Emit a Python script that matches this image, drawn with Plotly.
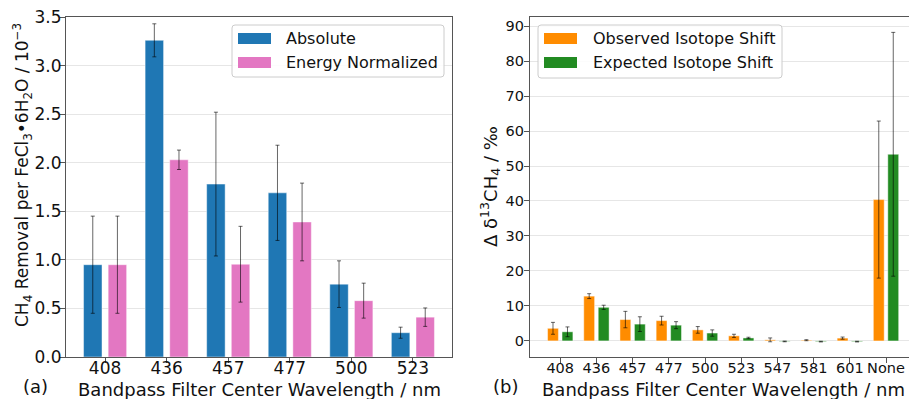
import plotly.graph_objects as go

# ---- data -------------------------------------------------------------
wavelengths_a = ["408", "436", "457", "477", "500", "523"]
absolute = [0.95, 3.26, 1.78, 1.69, 0.75, 0.25]
absolute_err = [0.50, 0.17, 0.74, 0.49, 0.24, 0.057]
normalized = [0.95, 2.03, 0.955, 1.39, 0.58, 0.41]
normalized_err = [0.50, 0.10, 0.39, 0.40, 0.18, 0.095]

wavelengths_b = ["408", "436", "457", "477", "500", "523", "547", "581", "601", "None"]
observed = [3.6, 12.8, 6.1, 5.8, 3.15, 1.45, 0.3, 0.2, 0.8, 40.4]
observed_err = [1.7, 0.7, 2.35, 1.25, 0.95, 0.45, 0.55, 0.15, 0.3, 22.45]
expected = [2.6, 9.6, 4.8, 4.5, 2.25, 0.85, -0.15, -0.2, -0.2, 53.35]
expected_err = [1.4, 0.6, 2.1, 1.0, 0.9, 0.2, 0.1, 0.1, 0.1, 34.85]

# ---- styling ------------------------------------------------------------
W, H = 909, 399
TOP, BOTTOM = 17, 357
FONT = "DejaVu Sans"
TXT = "#111111"
AXIS = "#555555"
GRID = "#e6e6e6"
BLUE, PINK = "#1f77b4", "#e377c2"
ORANGE, GREEN = "#ff8c00", "#228b22"
BAR_W = 0.3


def px(x):
    return x / W


def py(y):
    return (BOTTOM - y) / (BOTTOM - TOP)


def err(values):
    return dict(type="data", array=values, visible=True,
                color="rgba(0,0,0,0.6)", thickness=1, width=2)


def bar(xs, ys, es, color, offset, xa, ya):
    return go.Bar(x=xs, y=ys, error_y=err(es), offset=offset, width=BAR_W,
                  marker=dict(color=color, line=dict(color="rgba(255,255,255,0.45)", width=1)),
                  xaxis=xa, yaxis=ya, showlegend=False)


fig = go.Figure()
fig.add_trace(bar(wavelengths_a, absolute, absolute_err, BLUE, -0.35, "x", "y"))
fig.add_trace(bar(wavelengths_a, normalized, normalized_err, PINK, 0.05, "x", "y"))
fig.add_trace(bar(wavelengths_b, observed, observed_err, ORANGE, -0.35, "x2", "y2"))
fig.add_trace(bar(wavelengths_b, expected, expected_err, GREEN, 0.05, "x2", "y2"))

axis_common = dict(showline=True, linecolor=AXIS, linewidth=1.2, ticks="outside",
                   ticklen=5, tickcolor=AXIS, zeroline=False)

fig.update_layout(
    width=W, height=H,
    margin=dict(l=0, r=0, t=TOP, b=H - BOTTOM, pad=0),
    paper_bgcolor="white", plot_bgcolor="white",
    barmode="overlay",
    font=dict(family=FONT, color=TXT),
    xaxis=dict(domain=[px(66), px(452)], type="category", range=[-0.635, 5.635],
               mirror=True, showgrid=False, tickfont=dict(size=17), anchor="y",
               ticklabelstandoff=-10, **axis_common),
    yaxis=dict(domain=[0, 1], range=[0, 3.5], dtick=0.5, tickformat=".1f",
               mirror=True, showgrid=True, gridcolor=GRID, tickfont=dict(size=17),
               anchor="x", ticklabelstandoff=-5, **axis_common),
    xaxis2=dict(domain=[px(530), 1.0], type="category", range=[-0.835, 9.635],
                mirror=True, showgrid=False, tickfont=dict(size=14.5), anchor="y2",
                ticklabelstandoff=-8, **axis_common),
    yaxis2=dict(domain=[0, 1], range=[-4.6, 92.6], dtick=10, mirror=False,
                showgrid=True, gridcolor=GRID, tickfont=dict(size=14.5), anchor="x2",
                ticklabelstandoff=-3, **axis_common),
)


def rounded_box(x0, y0, x1, y1, r=3):
    rx, ry = r / W, r / (BOTTOM - TOP)
    X0, X1, Y0, Y1 = px(x0), px(x1), py(y0), py(y1)
    return (f"M{X0 + rx},{Y0} L{X1 - rx},{Y0} Q{X1},{Y0} {X1},{Y0 - ry} "
            f"L{X1},{Y1 + ry} Q{X1},{Y1} {X1 - rx},{Y1} L{X0 + rx},{Y1} "
            f"Q{X0},{Y1} {X0},{Y1 + ry} L{X0},{Y0 - ry} Q{X0},{Y0} {X0 + rx},{Y0} Z")


def legend(box, patch_x, text_x, entries):
    fig.add_shape(type="path", xref="paper", yref="paper", layer="above",
                  path=rounded_box(*box), fillcolor="rgba(255,255,255,0.85)",
                  line=dict(color="#cccccc", width=1))
    for (label, color), (ya, yb) in zip(entries, [(33, 44), (57, 68)]):
        fig.add_shape(type="rect", xref="paper", yref="paper", layer="above",
                      x0=px(patch_x[0]), x1=px(patch_x[1]), y0=py(yb), y1=py(ya),
                      fillcolor=color, line=dict(width=0))
        fig.add_annotation(text=label, xref="paper", yref="paper", x=px(text_x),
                           y=py((ya + yb) / 2), xanchor="left", yanchor="middle",
                           showarrow=False, font=dict(size=16, color=TXT))


legend((232, 25, 444, 77), (238, 271), 284,
       [("Absolute", BLUE), ("Energy Normalized", PINK)])
legend((538, 25, 782, 78), (544, 577), 591,
       [("Observed Isotope Shift", ORANGE), ("Expected Isotope Shift", GREEN)])

# axis titles and panel labels
def label(text, x, y, size=18, angle=0):
    fig.add_annotation(text=text, xref="paper", yref="paper", x=px(x), y=py(y),
                       xanchor="center", yanchor="middle", textangle=angle,
                       showarrow=False, font=dict(size=size, color=TXT))


label("CH<sub>4</sub> Removal per FeCl<sub>3</sub>•6H<sub>2</sub>O / 10<sup>−3</sup>",
      22, 175, size=17, angle=-90)
label("Δ δ<sup>13</sup>CH<sub>4</sub> / ‰", 490, 187, angle=-90)
label("Bandpass Filter Center Wavelength / nm", 259, 389)
label("Bandpass Filter Center Wavelength / nm", 723, 389)
label("(a)", 35, 386)
label("(b)", 505, 386)

fig.write_html("out.html")
